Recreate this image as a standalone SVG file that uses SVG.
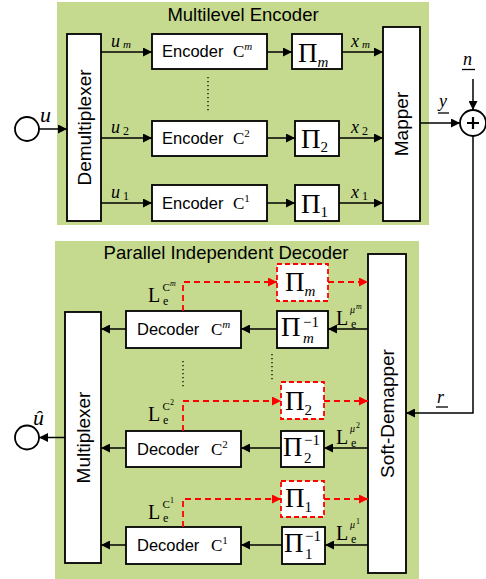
<svg xmlns="http://www.w3.org/2000/svg" width="486" height="579" viewBox="0 0 486 579">
<defs>
<style>
.bg{fill:#c5da8f;stroke:none}
.box{fill:#fff;stroke:#000;stroke-width:1.8}
.dbox{fill:#fff;stroke:#f00;stroke-width:1.8;stroke-dasharray:5,3}
.ln{fill:none;stroke:#000;stroke-width:1.5}
.rd{fill:none;stroke:#f00;stroke-width:1.8;stroke-dasharray:6,4}
.dot{fill:none;stroke:#000;stroke-width:1.3;stroke-dasharray:1.3,2.7}
.sans{font-family:"Liberation Sans",Arial,sans-serif;fill:#000}
.serif{font-family:"Liberation Serif","Times New Roman",serif;fill:#000}
.it{font-style:italic}
.ttl{font-size:18.5px}
.lbl{font-size:16.5px}
.vert{font-size:19px}
.pi{font-size:27px}
</style>
<marker id="ah" viewBox="0 0 10 10" refX="10" refY="5" markerWidth="9" markerHeight="9" markerUnits="userSpaceOnUse" orient="auto"><path d="M0,0 L10,5 L0,10 z" fill="#000"/></marker>
<marker id="ahr" viewBox="0 0 10 10" refX="10" refY="5" markerWidth="9" markerHeight="9" markerUnits="userSpaceOnUse" orient="auto"><path d="M0,0 L10,5 L0,10 z" fill="#f00"/></marker>
</defs>

<rect class="bg" x="57" y="2" width="372" height="223"/>
<rect class="bg" x="55" y="241" width="364" height="338"/>
<text class="sans ttl" x="243" y="21" text-anchor="middle">Multilevel Encoder</text>
<text class="sans ttl" x="226" y="259" text-anchor="middle">Parallel Independent Decoder</text>

<!-- Encoder side nodes -->
<g id="input">
<circle cx="27" cy="129" r="12" fill="#fff" stroke="#000" stroke-width="1.8"/>
<text class="serif it" x="40" y="122" font-size="22">u</text>
</g>
<g id="demux">
<rect class="box" x="67" y="34" width="34" height="187"/>
<text class="sans vert" transform="translate(90.5,127.5) rotate(-90)" text-anchor="middle">Demultiplexer</text>
</g>
<g id="encm">
<rect class="box" x="152" y="34" width="115" height="35"/>
<text class="sans lbl" x="162" y="57">Encoder</text>
<text class="serif" x="233" y="57" font-size="17">C<tspan class="it" font-size="11" dy="-7">m</tspan></text>
</g>
<g id="enc2">
<rect class="box" x="152" y="121" width="115" height="35"/>
<text class="sans lbl" x="162" y="144">Encoder</text>
<text class="serif" x="233" y="144" font-size="17">C<tspan font-size="11" dy="-7">2</tspan></text>
</g>
<g id="enc1">
<rect class="box" x="152" y="185" width="115" height="36"/>
<text class="sans lbl" x="162" y="209">Encoder</text>
<text class="serif" x="233" y="209" font-size="17">C<tspan font-size="11" dy="-7">1</tspan></text>
</g>
<g id="pim">
<rect class="box" x="292" y="34" width="50" height="35"/>
<text class="serif pi" x="298" y="62">Π<tspan class="it" font-size="15" dy="5">m</tspan></text>
</g>
<g id="pi2">
<rect class="box" x="295" y="121" width="44" height="35"/>
<text class="serif pi" x="301" y="148">Π<tspan font-size="15" dy="4">2</tspan></text>
</g>
<g id="pi1">
<rect class="box" x="295" y="185" width="44" height="36"/>
<text class="serif pi" x="301" y="213">Π<tspan font-size="15" dy="4">1</tspan></text>
</g>
<g id="mapper">
<rect class="box" x="383" y="27" width="37" height="194"/>
<text class="sans vert" transform="translate(408,124) rotate(-90)" text-anchor="middle">Mapper</text>
</g>
<g id="adder">
<circle cx="473" cy="123" r="13" fill="#fff" stroke="#000" stroke-width="1.8"/>
<path d="M467,123 H479 M473,117 V129" stroke="#000" stroke-width="2.2"/>
</g>

<!-- Decoder side nodes -->
<g id="mux">
<rect class="box" x="65" y="312" width="36" height="251"/>
<text class="sans vert" transform="translate(89.5,437.5) rotate(-90)" text-anchor="middle">Multiplexer</text>
</g>
<g id="output">
<circle cx="27" cy="437.5" r="12" fill="#fff" stroke="#000" stroke-width="1.8"/>
<text class="serif it" x="33" y="425" font-size="22">û</text>
</g>
<g id="decm">
<rect class="box" x="126" y="311" width="115" height="37"/>
<text class="sans lbl" x="137" y="335">Decoder</text>
<text class="serif" x="211" y="335" font-size="17">C<tspan class="it" font-size="11" dy="-7">m</tspan></text>
</g>
<g id="dec2">
<rect class="box" x="126" y="431" width="115" height="36"/>
<text class="sans lbl" x="137" y="455">Decoder</text>
<text class="serif" x="211" y="455" font-size="17">C<tspan font-size="11" dy="-7">2</tspan></text>
</g>
<g id="dec1">
<rect class="box" x="126" y="527" width="115" height="37"/>
<text class="sans lbl" x="137" y="551">Decoder</text>
<text class="serif" x="211" y="551" font-size="17">C<tspan font-size="11" dy="-7">1</tspan></text>
</g>
<g id="dpim">
<rect class="dbox" x="277" y="264" width="51" height="37"/>
<text class="serif pi" x="285" y="291">Π<tspan class="it" font-size="15" dy="5">m</tspan></text>
</g>
<g id="dpi2">
<rect class="dbox" x="281" y="382" width="43" height="37"/>
<text class="serif pi" x="285" y="410">Π<tspan font-size="15" dy="5">2</tspan></text>
</g>
<g id="dpi1">
<rect class="dbox" x="281" y="481" width="43" height="36"/>
<text class="serif pi" x="285" y="507">Π<tspan font-size="15" dy="5">1</tspan></text>
</g>
<g id="ipim">
<rect class="box" x="277" y="311" width="51" height="37"/>
<text class="serif pi" x="281" y="336">Π</text>
<text class="serif" x="303" y="327" font-size="15">−1</text>
<text class="serif it" x="303" y="343" font-size="15">m</text>
</g>
<g id="ipi2">
<rect class="box" x="281" y="431" width="43" height="36"/>
<text class="serif pi" x="283" y="456">Π</text>
<text class="serif" x="304" y="445" font-size="15">−1</text>
<text class="serif" x="304" y="463" font-size="15">2</text>
</g>
<g id="ipi1">
<rect class="box" x="282" y="527" width="43" height="37"/>
<text class="serif pi" x="284" y="552">Π</text>
<text class="serif" x="305" y="541" font-size="15">−1</text>
<text class="serif" x="305" y="559" font-size="15">1</text>
</g>
<g id="demapper">
<rect class="box" x="368" y="254" width="38" height="319"/>
<text class="sans vert" transform="translate(393.5,413.5) rotate(-90)" text-anchor="middle">Soft-Demapper</text>
</g>

<!-- Connectors -->
<g id="connectors">
<line class="ln" x1="39" y1="129" x2="67" y2="129" marker-end="url(#ah)"/>
<line class="ln" x1="101" y1="52" x2="152" y2="52" marker-end="url(#ah)"/>
<line class="ln" x1="101" y1="138" x2="152" y2="138" marker-end="url(#ah)"/>
<line class="ln" x1="101" y1="203" x2="152" y2="203" marker-end="url(#ah)"/>
<line class="ln" x1="267" y1="52" x2="292" y2="52" marker-end="url(#ah)"/>
<line class="ln" x1="267" y1="138" x2="295" y2="138" marker-end="url(#ah)"/>
<line class="ln" x1="267" y1="203" x2="295" y2="203" marker-end="url(#ah)"/>
<line class="ln" x1="342" y1="52" x2="383" y2="52" marker-end="url(#ah)"/>
<line class="ln" x1="339" y1="138" x2="383" y2="138" marker-end="url(#ah)"/>
<line class="ln" x1="339" y1="203" x2="383" y2="203" marker-end="url(#ah)"/>
<line class="ln" x1="420" y1="123" x2="460" y2="123" marker-end="url(#ah)"/>
<line class="ln" x1="473" y1="79" x2="473" y2="110" marker-end="url(#ah)"/>
<polyline class="ln" points="473,136 473,413 406,413" marker-end="url(#ah)"/>
<line class="dot" x1="208" y1="77" x2="208" y2="112"/>

<line class="ln" x1="368" y1="329" x2="328" y2="329" marker-end="url(#ah)"/>
<line class="ln" x1="277" y1="329" x2="241" y2="329" marker-end="url(#ah)"/>
<line class="ln" x1="126" y1="329" x2="101" y2="329" marker-end="url(#ah)"/>
<line class="ln" x1="368" y1="448" x2="324" y2="448" marker-end="url(#ah)"/>
<line class="ln" x1="281" y1="448" x2="241" y2="448" marker-end="url(#ah)"/>
<line class="ln" x1="126" y1="448" x2="101" y2="448" marker-end="url(#ah)"/>
<line class="ln" x1="368" y1="545" x2="325" y2="545" marker-end="url(#ah)"/>
<line class="ln" x1="282" y1="545" x2="241" y2="545" marker-end="url(#ah)"/>
<line class="ln" x1="126" y1="545" x2="101" y2="545" marker-end="url(#ah)"/>
<line class="ln" x1="65" y1="437.5" x2="39" y2="437.5" marker-end="url(#ah)"/>

<polyline class="rd" points="183,311 183,282 277,282" marker-end="url(#ahr)"/>
<line class="rd" x1="328" y1="282" x2="368" y2="282" marker-end="url(#ahr)"/>
<polyline class="rd" points="183,431 183,401 281,401" marker-end="url(#ahr)"/>
<line class="rd" x1="324" y1="401" x2="368" y2="401" marker-end="url(#ahr)"/>
<polyline class="rd" points="183,527 183,499 281,499" marker-end="url(#ahr)"/>
<line class="rd" x1="324" y1="499" x2="368" y2="499" marker-end="url(#ahr)"/>

<line class="dot" x1="183" y1="361" x2="183" y2="387"/>
<line class="dot" x1="272" y1="354" x2="272" y2="380"/>
</g>

<!-- Connector labels -->
<g id="labels">
<text class="serif it" x="111" y="47" font-size="18">u<tspan font-size="11" dx="3" dy="1">m</tspan></text>
<text class="serif it" x="111" y="133" font-size="18">u<tspan font-size="12" dx="3" dy="2" font-style="normal">2</tspan></text>
<text class="serif it" x="111" y="198" font-size="18">u<tspan font-size="12" dx="3" dy="2" font-style="normal">1</tspan></text>
<text class="serif it" x="351" y="47" font-size="18">x<tspan font-size="11" dx="3" dy="1">m</tspan></text>
<text class="serif it" x="351" y="133" font-size="18">x<tspan font-size="12" dx="3" dy="2" font-style="normal">2</tspan></text>
<text class="serif it" x="351" y="198" font-size="18">x<tspan font-size="12" dx="3" dy="2" font-style="normal">1</tspan></text>
<text class="serif it" x="439" y="107" font-size="18">y</text>
<line x1="438" y1="113" x2="449" y2="113" stroke="#000" stroke-width="1.3"/>
<text class="serif it" x="463" y="65" font-size="18">n</text>
<line x1="462" y1="69.5" x2="475" y2="69.5" stroke="#000" stroke-width="1.3"/>
<text class="serif it" x="437" y="403" font-size="18">r</text>
<line x1="436" y1="407" x2="448" y2="407" stroke="#000" stroke-width="1.3"/>

<text class="serif" x="148" y="302" font-size="20">L</text>
<text class="serif" x="163" y="305" font-size="12">e</text>
<text class="serif" x="162.5" y="291" font-size="11">C</text>
<text class="serif it" x="170" y="286" font-size="8">m</text>
<text class="serif" x="148" y="421" font-size="20">L</text>
<text class="serif" x="163" y="424" font-size="12">e</text>
<text class="serif" x="162.5" y="410" font-size="11">C</text>
<text class="serif" x="170" y="405" font-size="8">2</text>
<text class="serif" x="148" y="519" font-size="20">L</text>
<text class="serif" x="163" y="522" font-size="12">e</text>
<text class="serif" x="162.5" y="508" font-size="11">C</text>
<text class="serif" x="170" y="503" font-size="8">1</text>

<text class="serif" x="336" y="325" font-size="20">L</text>
<text class="serif" x="351" y="328" font-size="12">e</text>
<text class="serif it" x="350" y="313" font-size="10">μ</text>
<text class="serif it" x="356" y="309" font-size="8">m</text>
<text class="serif" x="336" y="444" font-size="20">L</text>
<text class="serif" x="351" y="447" font-size="12">e</text>
<text class="serif it" x="350" y="432" font-size="10">μ</text>
<text class="serif" x="356" y="428" font-size="8">2</text>
<text class="serif" x="336" y="540" font-size="20">L</text>
<text class="serif" x="351" y="543" font-size="12">e</text>
<text class="serif it" x="350" y="528" font-size="10">μ</text>
<text class="serif" x="356" y="524" font-size="8">1</text>
</g>
</svg>
